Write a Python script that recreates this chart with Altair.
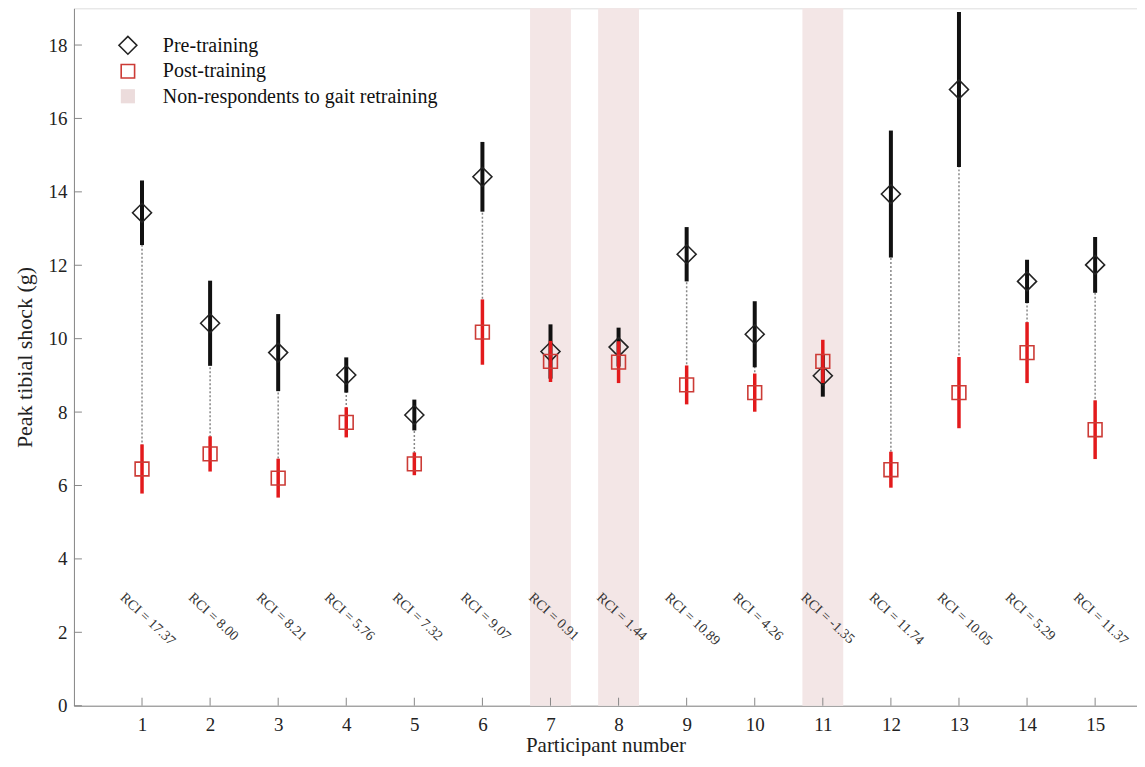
import altair as alt
import pandas as pd

participants = list(range(1, 16))
pre_mean = [13.43, 10.42, 9.62, 9.01, 7.92, 14.41, 9.65, 9.77, 12.30, 10.12, 8.99, 13.94, 16.79, 11.56, 12.01]
pre_sd = [0.88, 1.16, 1.05, 0.48, 0.42, 0.95, 0.74, 0.53, 0.74, 0.90, 0.57, 1.73, 2.11, 0.59, 0.76]
post_mean = [6.45, 6.86, 6.20, 7.72, 6.59, 10.18, 9.38, 9.36, 8.74, 8.53, 9.38, 6.43, 8.53, 9.62, 7.52]
post_sd = [0.67, 0.48, 0.53, 0.41, 0.31, 0.89, 0.56, 0.57, 0.53, 0.52, 0.59, 0.49, 0.97, 0.83, 0.80]
rci = ["17.37", "8.00", "8.21", "5.76", "7.32", "9.07", "0.91", "1.44", "10.89",
       "4.26", "-1.35", "11.74", "10.05", "5.29", "11.37"]
non_respondents = [7, 8, 11]
y_ticks = [0, 2, 4, 6, 8, 10, 12, 14, 16, 18]
x_ticks = participants
legend_labels = ["Pre-training", "Post-training", "Non-respondents to gait retraining"]

W, H = 1064, 698
FONT = "Liberation Serif"

df = pd.DataFrame({
    "pid": participants, "pre": pre_mean, "pre_sd": pre_sd,
    "post": post_mean, "post_sd": post_sd,
    "rci": ["RCI = " + r for r in rci],
})
df["pre_lo"] = df["pre"] - df["pre_sd"]
df["pre_hi"] = df["pre"] + df["pre_sd"]
df["post_lo"] = df["post"] - df["post_sd"]
df["post_hi"] = df["post"] + df["post_sd"]

bands = pd.DataFrame({"pid": non_respondents})
ticks_y = pd.DataFrame({"v": y_ticks})
ticks_x = pd.DataFrame({"v": x_ticks})

xscale = alt.Scale(domain=[0, 15.615], nice=False, zero=False)
yscale = alt.Scale(domain=[0, 19], nice=False, zero=True)

xaxis = alt.Axis(values=x_ticks, tickSize=0, labelPadding=10, labelFontSize=19, labelFont=FONT,
                 labelColor="#222", title="Participant number", titleFont=FONT, titleFontSize=21,
                 titleFontWeight="normal", titleColor="#222", titlePadding=0, grid=False,
                 domainColor="#888", labelFlush=False)
yaxis = alt.Axis(values=y_ticks, tickSize=0, labelPadding=7, labelFontSize=19, labelFont=FONT,
                 labelColor="#222", title="Peak tibial shock (g)", titleFont=FONT, titleFontSize=22,
                 titleFontWeight="normal", titleColor="#222", titlePadding=11, grid=False,
                 domainColor="#888")

X = lambda f: alt.X(f, type="quantitative", scale=xscale, axis=xaxis)
Y = lambda f: alt.Y(f, type="quantitative", scale=yscale, axis=yaxis)

band_layer = alt.Chart(bands).transform_calculate(
    x1="datum.pid - 0.3", x2="datum.pid + 0.3"
).mark_rect(color="#f3e6e6").encode(
    x=X("x1"), x2="x2:Q", y=alt.value(0), y2=alt.value(H)
)

connector = alt.Chart(df).mark_rule(color="#888888", strokeWidth=1.5, strokeDash=[2, 2]).encode(
    x=X("pid"), y=Y("pre"), y2="post:Q"
)

pre_bar = alt.Chart(df).mark_rule(color="#111111", strokeWidth=4).encode(
    x=X("pid"), y=Y("pre_lo"), y2="pre_hi:Q"
)
pre_pt = alt.Chart(df).mark_point(shape="diamond", size=360, filled=False, stroke="#222222",
                                  strokeWidth=1.6, opacity=1).encode(
    x=X("pid"), y=Y("pre")
)
post_bar = alt.Chart(df).mark_rule(color="#e31a1c", strokeWidth=3.5).encode(
    x=X("pid"), y=Y("post_lo"), y2="post_hi:Q"
)
post_pt = alt.Chart(df).mark_point(shape="square", size=190, filled=False, stroke="#cc3b36",
                                   strokeWidth=1.6, opacity=1).encode(
    x=X("pid"), y=Y("post")
)

rci_text = alt.Chart(df).transform_calculate(
    xt="datum.pid - 0.29", ty="3.0"
).mark_text(angle=43, align="left", baseline="middle", font=FONT, fontSize=14, color="#333333").encode(
    x=X("xt"), y=Y("ty"), text="rci:N"
)

ytick_layer = alt.Chart(ticks_y).mark_rule(color="#888888", strokeWidth=1).encode(
    y=Y("v"), x=alt.value(0), x2=alt.value(8)
)
xtick_layer = alt.Chart(ticks_x).mark_rule(color="#888888", strokeWidth=1).encode(
    x=X("v"), y=alt.value(H), y2=alt.value(H - 8)
)

leg_df = pd.DataFrame({"label": legend_labels})
leg_pre = alt.Chart(leg_df).transform_filter(alt.datum.label == legend_labels[0]).mark_point(
    shape="diamond", size=320, filled=False, stroke="#222222", strokeWidth=1.6, opacity=1
).encode(x=alt.value(54), y=alt.value(37))
leg_post = alt.Chart(leg_df).transform_filter(alt.datum.label == legend_labels[1]).mark_point(
    shape="square", size=180, filled=False, stroke="#cc3b36", strokeWidth=1.6, opacity=1
).encode(x=alt.value(54), y=alt.value(63))
leg_band = alt.Chart(leg_df).transform_filter(alt.datum.label == legend_labels[2]).mark_point(
    shape="square", size=200, filled=True, color="#ecdcdc", opacity=1
).encode(x=alt.value(54), y=alt.value(88))
leg_text = alt.Chart(leg_df).transform_window(
    idx="row_number()"
).transform_calculate(
    ly="12 + 25.5 * datum.idx"
).mark_text(align="left", baseline="middle", font=FONT, fontSize=20, color="#111111").encode(
    x=alt.value(89), y=alt.Y("ly:Q", scale=None), text="label:N"
)

chart = alt.layer(
    band_layer, connector, pre_bar, pre_pt, post_bar, post_pt, rci_text,
    ytick_layer, xtick_layer, leg_pre, leg_post, leg_band, leg_text
).properties(
    width=W, height=H, padding={"left": 6, "top": 0, "right": 0, "bottom": 0}
).configure_view(stroke=None).configure(background="white")

chart.save("out.html", embed_options={"renderer": "svg", "actions": False})
